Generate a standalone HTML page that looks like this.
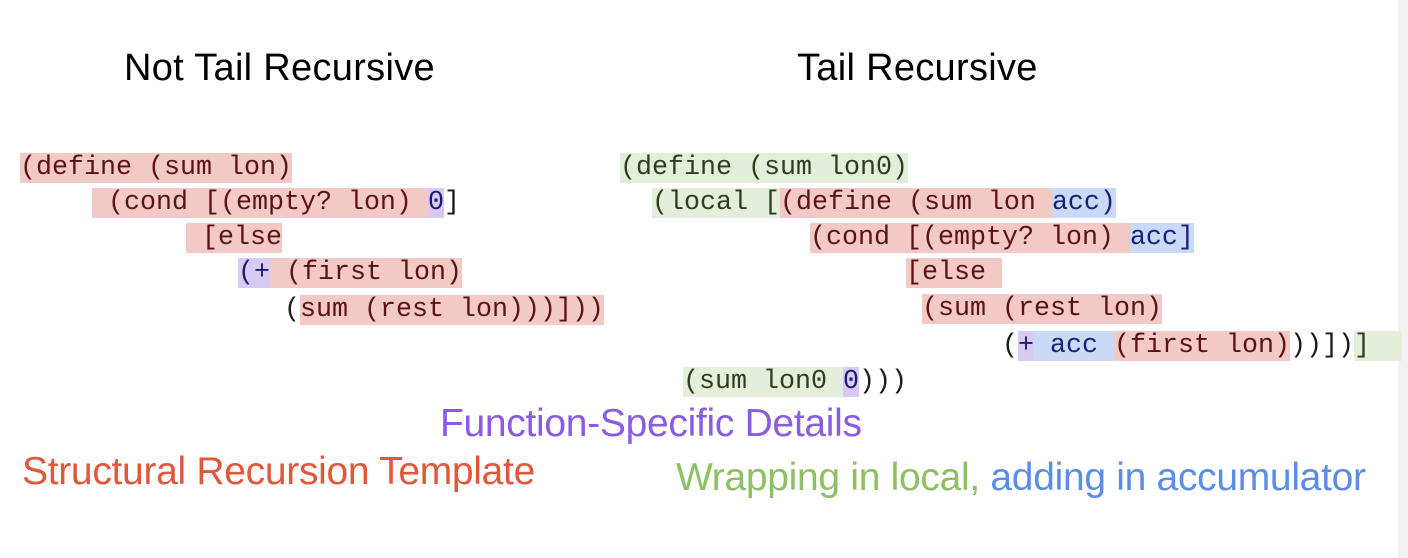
<!DOCTYPE html>
<html><head><meta charset="utf-8"><style>
html,body{margin:0;padding:0;}
body{width:1408px;height:558px;position:relative;background:#fff;overflow:hidden;font-family:"Liberation Sans",sans-serif;}
.strip{position:absolute;left:1398px;top:0;width:10px;height:558px;background:#f1f1f1;}
.h{position:absolute;font-size:38px;color:#000;white-space:nowrap;letter-spacing:0.3px;}
.c{position:absolute;font-family:"Liberation Mono",monospace;font-size:26.67px;line-height:36px;height:36px;white-space:pre;color:#1a1a1a;}
.r{background:#f2c9c5;color:#5a1212;}
.g{background:#e3efda;color:#2e3d1e;}
.b{background:#cad9f5;color:#13237a;}
.p{background:#d8caf3;color:#1a1a70;}
.l{position:absolute;font-size:39px;white-space:nowrap;letter-spacing:-0.3px;}
</style></head><body>
<div class="strip"></div>
<div class="h" style="left:124px;top:47px;">Not Tail Recursive</div>
<div class="h" style="left:797px;top:47px;">Tail Recursive</div>

<div class="c" style="left:20px;top:150px;"><span class="r">(define (sum lon)</span></div>
<div class="c" style="left:92px;top:185px;"><span class="r"> (cond [(empty? lon) </span><span class="p">0</span>]</div>
<div class="c" style="left:186px;top:220px;"><span class="r"> [else</span></div>
<div class="c" style="left:238px;top:255px;"><span class="p">(+</span><span class="r"> (first lon)</span></div>
<div class="c" style="left:284px;top:292px;">(<span class="r">sum (rest lon)))]))</span></div>

<div class="c" style="left:620px;top:150px;"><span class="g">(define (sum lon0)</span></div>
<div class="c" style="left:652px;top:185px;"><span class="g">(local [</span><span class="r">(define (sum lon </span><span class="b">acc)</span></div>
<div class="c" style="left:810px;top:220px;"><span class="r">(cond [(empty? lon) </span><span class="b">acc]</span></div>
<div class="c" style="left:906px;top:255px;"><span class="r">[else </span></div>
<div class="c" style="left:922px;top:291px;"><span class="r">(sum (rest lon)</span></div>
<div class="c" style="left:1002px;top:328px;">(<span class="p">+</span><span class="b"> acc </span><span class="r">(first lon)</span>))])<span class="g">]  </span></div>
<div class="c" style="left:683px;top:364px;"><span class="g">(sum lon0 </span><span class="p">0</span>)))</div>

<div class="l" style="left:440px;top:402px;color:#8a5ce2;">Function-Specific Details</div>
<div class="l" style="left:22px;top:450px;color:#e0573a;">Structural Recursion Template</div>
<div class="l" style="left:676px;top:456px;color:#8cc062;">Wrapping in local, <span style="color:#5b8de6;">adding in accumulator</span></div>
</body></html>
